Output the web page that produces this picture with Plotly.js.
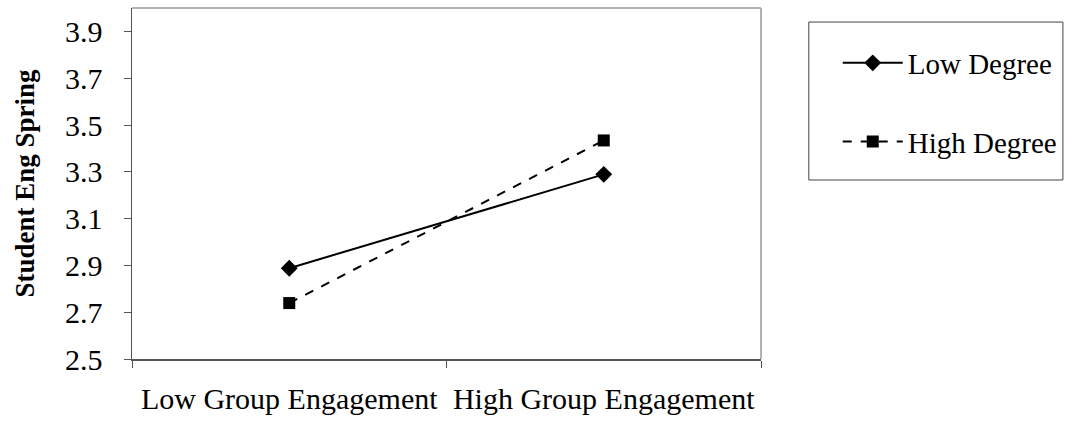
<!DOCTYPE html>
<html><head><meta charset="utf-8">
<script src="https://cdn.plot.ly/plotly-3.0.1.min.js"></script>
<style>html,body{margin:0;padding:0;background:#fff;}#chart{width:1070px;height:425px;}</style>
</head><body><div id="chart"></div>
<script>
const categories = ["Low Group Engagement", "High Group Engagement"];
const lowDegree = [2.888, 3.289];
const highDegree = [2.739, 3.434];
const seriesNames = ["Low Degree", "High Degree"];
const yTicks = [2.5, 2.7, 2.9, 3.1, 3.3, 3.5, 3.7, 3.9];
const yTitle = "Student Eng Spring";

const font = "Liberation Serif, Times New Roman, serif";
const traces = [
  {x: categories, y: lowDegree, name: seriesNames[0], type: "scatter", mode: "lines+markers",
   line: {color: "#000", width: 2, dash: "solid"}, marker: {symbol: "diamond", size: 13, color: "#000"},
   legendgroup: "a"},
  {x: categories, y: highDegree, name: seriesNames[1], type: "scatter", mode: "lines+markers",
   line: {color: "#000", width: 2, dash: "dash"}, marker: {symbol: "square", size: 12, color: "#000"},
   legendgroup: "b"}
];
const layout = {
  width: 1070, height: 425,
  margin: {l: 132, r: 307, t: 8, b: 66},
  paper_bgcolor: "#fff", plot_bgcolor: "#fff",
  font: {family: font, color: "#000", size: 30},
  showlegend: true,
  legend: {x: 1.122, xanchor: "left", y: 0.916, yanchor: "top", borderwidth: 0, bgcolor: "rgba(0,0,0,0)",
    font: {family: font, size: 29, color: "#000"}, tracegroupgap: 38, traceorder: "grouped",
    itemwidth: 60},
  xaxis: {type: "category", range: [-0.5, 1.5], tickson: "boundaries", ticks: "outside", ticklen: 7,
    tickcolor: "#555", showline: true, linecolor: "#555", linewidth: 1.5, showgrid: false, zeroline: false,
    tickfont: {family: font, size: 30}, ticklabelstandoff: 12, fixedrange: true},
  yaxis: {range: [2.5, 4.0], tickvals: yTicks, ticktext: yTicks.map(v => v.toFixed(1)), ticks: "outside",
    ticklen: 7, tickcolor: "#555", showline: true, linecolor: "#555", linewidth: 1.5, showgrid: false,
    zeroline: false, tickfont: {family: font, size: 30}, ticklabelstandoff: 15,
    title: {text: "<b>" + yTitle + "</b>", font: {family: font, size: 27}, standoff: 22}},
  shapes: [
    {type: "line", xref: "paper", yref: "paper", x0: 0, x1: 1, y0: 1, y1: 1, line: {color: "#999", width: 1.5}},
    {type: "line", xref: "paper", yref: "paper", x0: 1, x1: 1, y0: 0, y1: 1, line: {color: "#999", width: 1.5}},
    {type: "rect", xref: "paper", yref: "paper", x0: 1.076, x1: 1.48, y0: 0.51, y1: 0.96,
     line: {color: "#444", width: 1}, fillcolor: "rgba(0,0,0,0)"}
  ]
};
Plotly.newPlot("chart", traces, layout, {displayModeBar: false, staticPlot: true});
</script></body></html>
